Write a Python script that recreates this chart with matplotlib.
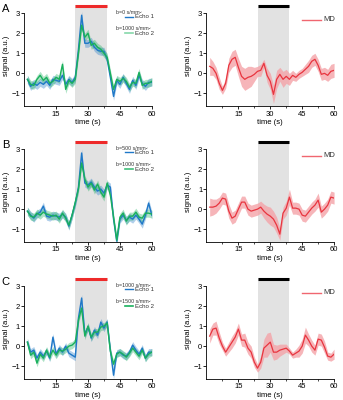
import numpy as np
import matplotlib
matplotlib.use('Agg')
import matplotlib.pyplot as plt

plt.rcParams['font.family'] = ['Liberation Sans', 'DejaVu Sans']

t = np.arange(1.5, 60.1, 1.5)
block_on, block_off = 24, 39

# panel A
a_echo1 = [-0.3, -0.65, -0.5, -0.6, -0.45, -0.55, -0.4, -0.6, -0.3, -0.35, -0.4, -0.1, -0.55, -0.3, -0.45, -0.2,
           1.2, 2.9, 1.5, 1.5, 1.6, 1.3, 1.15, 1.1, 1.1, 0.7, -0.2, -1.15, -0.35, -0.55, -0.2, -0.5, -0.8, -0.35,
           -0.6, -0.1, -0.5, -0.65, -0.45, -0.45]
a_echo2 = [-0.3, -0.55, -0.6, -0.3, -0.1, -0.35, -0.2, -0.5, -0.4, -0.2, -0.3, 0.45, -0.8, -0.35, -0.5, -0.3,
           1.0, 2.4, 1.8, 2.0, 1.4, 1.5, 1.3, 1.2, 1.0, 0.8, 0.0, -0.8, -0.3, -0.4, -0.25, -0.4, -0.7, -0.45,
           -0.5, 0.05, -0.6, -0.5, -0.5, -0.4]
a_md = [0.35, 0.25, 0.0, -0.5, -0.85, -0.5, 0.4, 0.7, 0.8, 0.3, -0.15, -0.3, -0.2, -0.15, -0.05, 0.1, 0.15, 0.5,
        -0.1, -0.4, -1.05, -0.3, -0.05, -0.3, -0.15, -0.3, -0.1, -0.2, -0.05, 0.05, 0.2, 0.35, 0.6, 0.7, 0.4,
        -0.05, 0.0, -0.1, 0.1, 0.15]
a_md_sem = [0.45, 0.35, 0.3, 0.3, 0.2, 0.25, 0.35, 0.4, 0.4, 0.45, 0.5, 0.55, 0.55, 0.5, 0.35, 0.25, 0.3, 0.2,
            0.35, 0.4, 0.45, 0.45, 0.35, 0.4, 0.35, 0.3, 0.25, 0.2, 0.2, 0.2, 0.25, 0.3, 0.3, 0.3, 0.3, 0.3,
            0.3, 0.3, 0.35, 0.35]

# panel B
b_echo1 = [-0.1, -0.3, -0.45, -0.25, -0.15, 0.15, -0.35, -0.4, -0.3, -0.35, -0.4, -0.25, -0.4, -0.85, -0.3, 0.3,
           1.1, 2.8, 1.3, 1.2, 1.35, 1.1, 0.9, 1.0, 0.8, 1.2, 1.1, -0.5, -1.6, -0.5, -0.3, -0.55, -0.4, -0.5,
           -0.3, -0.5, -0.75, -0.3, 0.3, -0.3]
b_echo2 = [-0.1, -0.35, -0.4, -0.2, -0.3, -0.15, -0.25, -0.3, -0.35, -0.3, -0.5, -0.2, -0.45, -0.8, -0.3, 0.35,
           1.0, 2.3, 1.5, 1.1, 1.3, 0.95, 1.25, 0.85, 0.6, 1.3, 0.7, -0.4, -1.55, -0.4, -0.2, -0.6, -0.35, -0.35,
           -0.15, -0.4, -0.45, -0.2, -0.2, -0.25]
b_md = [0.1, 0.1, 0.15, 0.3, 0.55, 0.5, -0.1, -0.45, -0.35, 0.0, 0.35, 0.35, 0.0, -0.1, -0.05, 0.0, 0.1, -0.1,
        -0.25, -0.35, -0.5, -0.8, -1.25, -0.2, 0.05, 0.6, 0.05, 0.05, 0.0, -0.3, -0.35, -0.15, 0.05, 0.2, 0.45,
        -0.15, 0.0, 0.2, 0.6, 0.55]
b_md_sem = [0.45, 0.4, 0.35, 0.3, 0.3, 0.3, 0.35, 0.3, 0.3, 0.3, 0.3, 0.3, 0.3, 0.3, 0.3, 0.3, 0.3, 0.35, 0.4,
            0.45, 0.4, 0.4, 0.3, 0.3, 0.35, 0.4, 0.3, 0.3, 0.3, 0.3, 0.3, 0.3, 0.3, 0.3, 0.35, 0.3, 0.3, 0.3,
            0.3, 0.3]

# panel C
c_echo1 = [0.2, -0.3, -0.2, -0.6, -0.3, -0.5, -0.25, -0.6, 0.45, -0.4, -0.1, -0.3, 0.0, -0.35, -0.45, -0.55,
           1.4, 2.4, 0.6, 0.95, 0.4, 0.8, 0.55, 1.2, 0.9, 1.2, -0.2, -1.45, -0.35, -0.3, -0.45, -0.5, -0.3, 0.05,
           -0.2, -0.4, -0.1, -0.6, -0.3, -0.3]
c_echo2 = [0.2, -0.45, -0.3, -0.85, -0.4, -0.6, -0.2, -0.55, -0.2, -0.45, -0.2, -0.25, -0.15, 0.0, 0.05, 0.2,
           1.3, 1.9, 0.5, 1.0, 0.45, 0.7, 0.7, 0.95, 1.0, 1.15, -0.25, -0.9, -0.4, -0.3, -0.4, -0.55, -0.35, -0.1,
           -0.3, -0.5, -0.2, -0.6, -0.4, -0.3]
c_md = [0.5, 0.85, 0.9, 0.4, 0.0, -0.3, -0.05, 0.2, 0.45, 0.85, 0.3, 0.3, -0.1, -0.3, -0.8, -1.1, -0.8, -0.1,
        0.05, 0.2, -0.3, -0.3, -0.2, -0.15, -0.1, -0.25, -0.45, -0.35, -0.25, 0.0, 0.55, 0.3, 0.0, -0.2, 0.35,
        0.3, -0.05, -0.5, -0.55, -0.4]
c_md_sem = [0.35, 0.3, 0.35, 0.3, 0.2, 0.2, 0.25, 0.3, 0.3, 0.3, 0.3, 0.35, 0.3, 0.3, 0.25, 0.2, 0.3, 0.45, 0.6,
            0.5, 0.4, 0.35, 0.3, 0.25, 0.2, 0.15, 0.15, 0.2, 0.3, 0.35, 0.4, 0.3, 0.3, 0.25, 0.3, 0.3, 0.3, 0.2,
            0.2, 0.25]

echo_sem = [0.2, 0.2, 0.18]
letters = ['A', 'B', 'C']
bvals = [('b=0 s/mm²', 'b=1000 s/mm²'), ('b=500 s/mm²', 'b=1000 s/mm²'), ('b=1000 s/mm²', 'b=1500 s/mm²')]
echo1 = [a_echo1, b_echo1, c_echo1]
echo2 = [a_echo2, b_echo2, c_echo2]
md = [a_md, b_md, c_md]
md_sem = [a_md_sem, b_md_sem, c_md_sem]

blue = '#1f78c8'
green = '#19b05c'
red = '#e8353f'
legend_green = ['#86d8aa', '#3fbf7a', green]

fig = plt.figure(figsize=(3.43, 4.0), dpi=100)
tops = [0.987, 0.6475, 0.305]
h = 0.253
lefts = [0.0706, 0.602]
w = 0.372


def style(ax):
    ax.set_xlim(0, 60)
    ax.set_ylim(-1.65, 3.4)
    for s in ['top', 'right']:
        ax.spines[s].set_visible(False)
    ax.spines['left'].set_bounds(-1.65, 3)
    ax.spines['left'].set_linewidth(0.6)
    ax.spines['bottom'].set_linewidth(0.6)
    ax.set_xticks([15, 30, 45, 60])
    ax.set_xticks([7.5, 22.5, 37.5, 52.5], minor=True)
    ax.set_yticks([-1, 0, 1, 2, 3])
    ax.tick_params(labelsize=5.5, length=2, width=0.6, pad=1)
    ax.tick_params(which='minor', length=1.5, width=0.5)
    ax.set_xlabel('time (s)', fontsize=5.5, labelpad=1)
    ax.set_ylabel('signal (a.u.)', fontsize=5.5, labelpad=1)
    ax.axvspan(block_on, block_off, color='#e2e2e2', lw=0, zorder=0)


for i in range(3):
    ax = fig.add_axes([lefts[0], tops[i] - h, w, h])
    style(ax)
    e1 = np.array(echo1[i])
    e2 = np.array(echo2[i])
    ax.fill_between(t, e1 - echo_sem[i], e1 + echo_sem[i], color=blue, alpha=0.35, lw=0)
    ax.fill_between(t, e2 - echo_sem[i], e2 + echo_sem[i], color=green, alpha=0.35, lw=0)
    ax.plot(t, e1, color=blue, lw=1.0)
    ax.plot(t, e2, color=green, lw=1.0)
    ax.plot([block_on, block_off], [3.36, 3.36], color='#ee2a2a', lw=2.2, clip_on=False, solid_capstyle='butt')
    # legend
    tr = ax.transAxes
    ax.text(0.72, 0.93, bvals[i][0], fontsize=3.8, transform=tr, va='center', color='#333333')
    ax.plot([0.79, 0.855], [0.888, 0.888], color=blue, lw=1.0, transform=tr)
    ax.text(0.867, 0.888, 'Echo 1', fontsize=4.4, transform=tr, va='center', color='#333333')
    ax.text(0.72, 0.765, bvals[i][1], fontsize=3.8, transform=tr, va='center', color='#333333')
    ax.plot([0.79, 0.855], [0.722, 0.722], color=legend_green[i], lw=1.2, transform=tr)
    ax.text(0.867, 0.722, 'Echo 2', fontsize=4.4, transform=tr, va='center', color='#333333')
    fig.text(0.005, tops[i] + 0.003, letters[i], fontsize=8, va='top')

    ax2 = fig.add_axes([lefts[1], tops[i] - h, w, h])
    style(ax2)
    m = np.array(md[i])
    s = np.array(md_sem[i])
    ax2.fill_between(t, m - s, m + s, color='#f4a3a8', alpha=0.8, lw=0)
    ax2.plot(t, m, color=red, lw=0.9)
    ax2.plot([block_on, block_off], [3.36, 3.36], color='black', lw=2.2, clip_on=False, solid_capstyle='butt')
    tr = ax2.transAxes
    ax2.plot([0.75, 0.895], [0.855, 0.855], color='#f06670', lw=1.0, transform=tr)
    ax2.text(0.915, 0.855, 'MD', fontsize=5.5, transform=tr, va='center', color='#333333')

fig.savefig('out.png', dpi=100)
